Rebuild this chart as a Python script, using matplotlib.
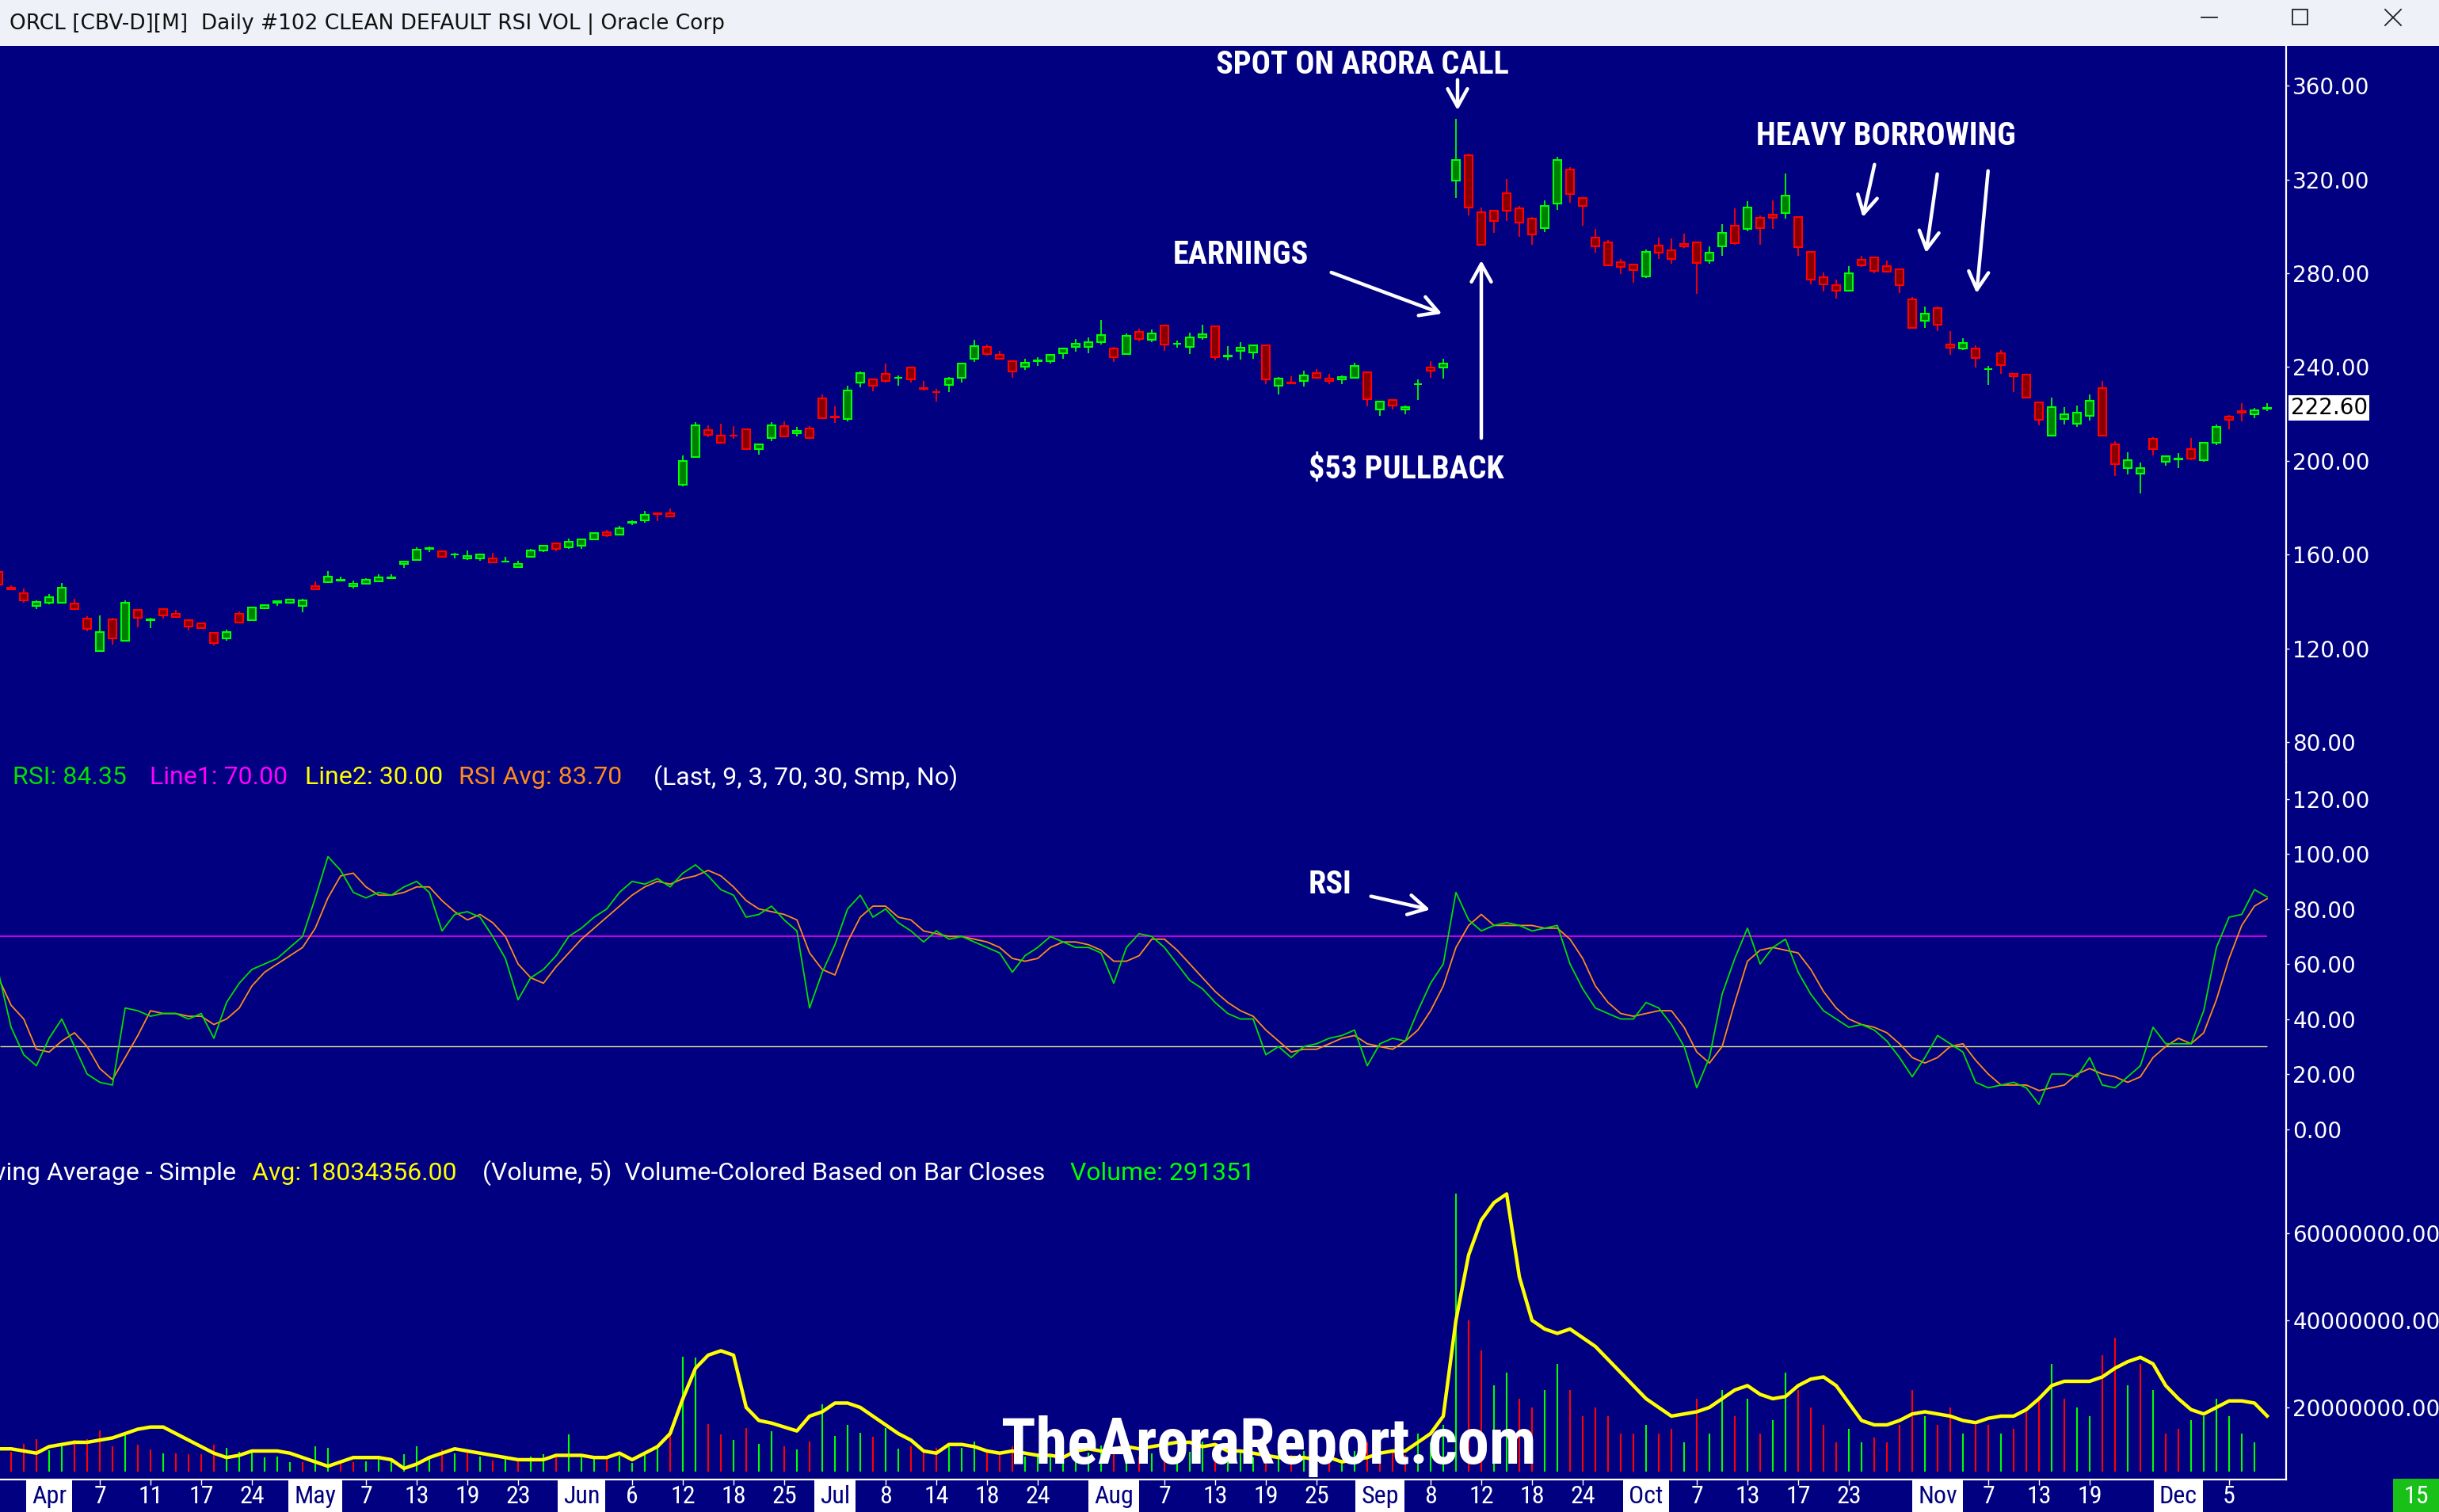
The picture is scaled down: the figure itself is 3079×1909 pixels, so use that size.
import numpy as np
import pandas as pd
import matplotlib
matplotlib.use('Agg')
import matplotlib.pyplot as plt
from matplotlib import font_manager
from matplotlib.patches import Rectangle, FancyArrowPatch
from matplotlib.lines import Line2D


W, H = 3079, 1909
NAVY = '#000080'
G_LINE, G_FILL = '#00FF00', '#008000'
R_LINE, R_FILL = '#FF0000', '#880000'

# Trading days shown (Mar 26 - Dec 10 2025), index 0 = Apr 1
holidays = ['2025-04-18', '2025-05-26', '2025-06-19', '2025-07-04', '2025-09-01', '2025-11-27']
days = pd.bdate_range('2025-03-26', '2025-12-10')
days = days[~days.isin(pd.to_datetime(holidays))]
x = np.arange(len(days)) - 4

# OHLC
opens = [152.7, 146.0, 143.6, 138.3, 139.7, 139.7, 139.1, 132.7, 118.8, 132.4,
         123.3, 136.4, 132.2, 136.8, 134.8, 132.0, 130.7, 126.6, 124.2, 134.8,
         132.3, 137.3, 139.4, 139.7, 138.3, 146.7, 148.2, 149.0, 146.8, 147.5,
         148.8, 150.0, 156.2, 157.9, 162.5, 161.4, 160.0, 158.3, 158.6, 158.5,
         157.0, 154.9, 159.3, 161.7, 164.9, 163.3, 164.0, 166.7, 169.5, 168.7,
         173.8, 174.8, 177.6, 177.6, 189.7, 201.6, 213.1, 210.7, 210.9, 213.4,
         205.2, 209.9, 214.7, 211.9, 213.7, 226.6, 218.9, 217.8, 233.3, 234.9,
         237.0, 235.3, 239.7, 231.1, 229.3, 232.3, 235.3, 243.4, 248.5, 245.1,
         242.4, 240.1, 242.5, 242.4, 245.8, 248.5, 248.5, 250.5, 247.8, 245.7,
         255.0, 251.5, 257.6, 249.8, 248.5, 252.5, 257.3, 244.6, 246.8, 246.1,
         249.3, 231.9, 233.4, 234.0, 237.5, 235.1, 234.9, 235.3, 237.8, 221.8,
         225.9, 221.8, 232.6, 239.7, 239.7, 319.4, 330.2, 305.9, 306.7, 314.0,
         307.6, 303.3, 299.1, 309.6, 324.1, 312.0, 295.1, 293.1, 284.6, 283.6,
         278.8, 291.7, 289.7, 292.4, 293.1, 285.3, 291.4, 300.1, 298.8, 303.5,
         304.9, 305.5, 303.9, 289.0, 278.2, 274.8, 272.7, 285.9, 286.6, 282.9,
         281.6, 268.8, 259.6, 265.0, 249.7, 247.8, 247.8, 239.1, 245.8, 237.0,
         236.7, 224.9, 210.8, 218.0, 216.0, 219.1, 230.9, 207.0, 197.0, 194.5,
         209.5, 199.7, 200.7, 205.0, 200.2, 207.8, 218.9, 221.3, 219.8, 222.2]
highs = [153.5, 147.0, 145.6, 140.6, 143.3, 148.0, 141.3, 133.8, 134.2, 133.2,
         140.6, 136.6, 133.2, 137.0, 136.5, 132.2, 131.1, 127.1, 128.1, 135.9,
         137.9, 138.8, 140.7, 141.3, 141.3, 148.7, 153.1, 150.7, 148.9, 150.0,
         151.7, 151.7, 157.1, 163.1, 163.5, 161.9, 160.8, 161.9, 160.5, 160.8,
         159.2, 157.5, 162.5, 164.3, 165.3, 166.9, 166.9, 169.3, 170.6, 172.3,
         174.7, 178.6, 177.6, 179.7, 202.4, 216.4, 215.1, 215.9, 214.9, 213.7,
         207.4, 216.4, 216.9, 214.5, 214.9, 228.4, 223.2, 232.0, 238.2, 235.2,
         241.5, 236.5, 240.1, 234.1, 230.7, 235.8, 241.4, 251.5, 249.5, 246.8,
         242.4, 243.4, 244.1, 245.5, 247.8, 252.0, 252.5, 260.0, 248.6, 254.5,
         256.5, 256.0, 257.7, 251.3, 254.7, 258.0, 257.7, 248.8, 250.6, 249.3,
         249.3, 235.9, 236.0, 238.4, 239.2, 237.1, 236.5, 241.7, 238.0, 225.6,
         225.9, 223.6, 234.6, 242.5, 243.7, 345.8, 331.0, 308.0, 307.0, 320.2,
         308.7, 304.0, 310.9, 329.5, 325.2, 312.3, 298.8, 294.2, 286.0, 283.6,
         290.0, 295.2, 294.9, 296.9, 293.1, 291.4, 300.8, 307.6, 310.6, 304.5,
         310.9, 322.4, 304.2, 289.6, 280.3, 277.2, 283.0, 287.3, 287.1, 285.3,
         281.6, 269.9, 265.8, 265.7, 255.4, 252.3, 249.3, 240.4, 247.1, 237.4,
         236.7, 225.4, 227.0, 223.0, 223.6, 228.4, 234.1, 208.6, 203.7, 199.3,
         210.1, 202.4, 203.3, 209.7, 208.2, 215.5, 219.6, 224.6, 222.6, 224.6]
lows = [146.8, 145.0, 139.4, 137.0, 139.0, 139.6, 136.5, 127.3, 118.7, 121.7,
        123.0, 129.1, 128.8, 132.9, 133.4, 127.9, 128.4, 121.4, 123.4, 131.0,
        132.1, 136.9, 138.2, 139.6, 135.5, 145.3, 148.0, 148.7, 145.8, 147.4,
        148.7, 149.8, 154.5, 157.6, 161.3, 158.9, 158.5, 157.9, 157.5, 156.6,
        156.8, 154.5, 158.9, 161.3, 161.6, 162.5, 162.5, 166.5, 167.7, 168.6,
        172.8, 173.7, 174.5, 176.1, 189.1, 201.5, 210.2, 207.5, 209.6, 204.9,
        202.7, 208.6, 210.1, 210.5, 209.8, 218.2, 216.3, 217.0, 231.5, 229.8,
        233.3, 232.2, 233.5, 230.2, 225.4, 229.4, 233.3, 242.3, 245.0, 243.4,
        235.6, 238.9, 240.6, 241.6, 243.7, 246.7, 245.8, 249.5, 242.3, 245.5,
        251.0, 250.5, 246.8, 248.2, 245.7, 251.5, 242.8, 242.8, 243.1, 243.7,
        232.6, 228.5, 232.9, 231.6, 235.2, 232.8, 232.8, 235.2, 223.4, 219.1,
        222.1, 219.8, 226.1, 235.6, 235.0, 312.2, 304.8, 292.0, 297.3, 302.4,
        295.4, 292.3, 297.7, 307.1, 310.2, 300.4, 288.9, 283.3, 279.8, 276.1,
        278.1, 286.2, 284.2, 290.9, 271.3, 284.0, 287.5, 292.3, 298.0, 292.3,
        299.0, 303.4, 287.5, 275.4, 272.4, 269.3, 272.7, 282.6, 280.0, 280.8,
        271.7, 256.4, 256.8, 255.5, 245.4, 247.4, 239.7, 232.5, 237.2, 229.2,
        226.6, 215.2, 210.8, 215.5, 214.5, 217.3, 210.7, 193.7, 194.4, 186.1,
        202.5, 197.9, 196.9, 200.2, 199.5, 206.6, 213.6, 217.0, 218.3, 221.4]
closes = [147.4, 145.4, 140.7, 139.8, 141.8, 145.9, 137.0, 128.3, 127.0, 124.2,
          139.4, 133.3, 132.4, 134.3, 133.6, 129.6, 128.6, 122.5, 127.0, 131.2,
          137.4, 138.5, 140.2, 140.9, 140.5, 145.4, 150.7, 149.2, 147.6, 149.3,
          150.3, 150.3, 157.0, 162.2, 162.7, 159.3, 160.2, 159.5, 160.2, 156.9,
          157.2, 156.1, 161.9, 163.9, 162.6, 165.6, 166.6, 169.2, 168.1, 171.2,
          173.9, 176.9, 177.4, 176.2, 199.9, 215.1, 211.0, 207.9, 210.7, 205.0,
          207.0, 215.1, 210.6, 212.7, 209.9, 218.3, 218.7, 229.9, 237.4, 232.2,
          234.2, 235.5, 234.9, 230.8, 229.2, 235.0, 241.4, 248.8, 245.5, 243.4,
          238.0, 241.7, 242.7, 245.1, 247.8, 249.8, 250.6, 253.8, 244.3, 253.5,
          252.0, 254.5, 249.5, 250.0, 252.7, 254.0, 244.1, 244.8, 248.2, 249.3,
          234.6, 235.0, 233.2, 236.5, 235.3, 234.2, 235.8, 240.5, 226.2, 225.2,
          223.6, 222.8, 232.8, 238.4, 241.4, 328.2, 307.9, 292.0, 302.2, 306.6,
          301.5, 296.4, 308.6, 328.2, 313.9, 308.6, 291.4, 283.3, 282.6, 281.2,
          289.0, 288.7, 286.0, 291.6, 284.3, 288.7, 297.1, 292.9, 307.9, 299.1,
          303.5, 313.0, 291.3, 277.2, 275.2, 272.5, 279.9, 283.3, 281.1, 280.8,
          275.1, 256.8, 262.7, 257.9, 248.2, 250.2, 243.8, 239.3, 240.7, 236.0,
          226.9, 217.4, 222.8, 219.8, 220.6, 225.5, 210.7, 198.5, 200.2, 196.9,
          205.0, 201.9, 200.9, 200.9, 207.8, 214.4, 217.6, 220.6, 221.5, 222.6]

# RSI(9) and its 3-bar average
rsi = [57, 37, 27, 23, 33, 40, 30, 20, 17, 16,
       44, 43, 41, 42, 42, 40, 42, 33, 46, 53,
       58, 60, 62, 66, 70, 84, 99, 94, 86, 84,
       86, 85, 88, 90, 86, 72, 78, 79, 77, 70,
       62, 47, 55, 58, 63, 70, 73, 77, 80, 86,
       90, 89, 91, 88, 93, 96, 92, 87, 85, 77,
       78, 81, 76, 72, 44, 57, 67, 80, 85, 77,
       80, 75, 72, 68, 72, 69, 70, 68, 66, 64,
       57, 63, 66, 70, 68, 66, 66, 64, 53, 66,
       71, 70, 66, 60, 54, 51, 46, 42, 40, 40,
       27, 30, 26, 30, 31, 33, 34, 36, 23, 31,
       33, 32, 43, 53, 60, 86, 76, 72, 74, 75,
       74, 72, 73, 74, 60, 51, 44, 42, 40, 40,
       46, 44, 38, 30, 15, 26, 49, 62, 73, 60,
       66, 69, 57, 49, 43, 40, 37, 38, 36, 32,
       26, 19, 26, 34, 31, 28, 17, 15, 16, 17,
       15, 9, 20, 20, 19, 26, 16, 15, 19, 23,
       37, 31, 31, 31, 43, 66, 77, 78, 87, 84.35]
rsi_avg = [55, 45, 40, 29, 28, 32, 35, 30, 22, 18,
           26, 34, 43, 42, 42, 41, 41, 38, 40, 44,
           52, 57, 60, 63, 66, 73, 84, 92, 93, 88,
           85, 85, 86, 88, 88, 83, 79, 76, 78, 75,
           70, 60, 55, 53, 59, 64, 69, 73, 77, 81,
           85, 88, 90, 89, 91, 92, 94, 92, 88, 83,
           80, 79, 78, 76, 64, 58, 56, 68, 77, 81,
           81, 77, 76, 72, 71, 70, 70, 69, 68, 66,
           62, 61, 62, 66, 68, 68, 67, 65, 61, 61,
           63, 69, 69, 65, 60, 55, 50, 46, 43, 41,
           36, 32, 28, 29, 29, 31, 33, 34, 31, 30,
           29, 32, 36, 43, 52, 66, 74, 78, 74, 74,
           74, 74, 73, 73, 69, 62, 52, 46, 42, 41,
           42, 43, 43, 37, 28, 24, 30, 46, 61, 65,
           66, 65, 64, 58, 50, 44, 40, 38, 37, 35,
           31, 26, 24, 26, 30, 31, 25, 20, 16, 16,
           16, 14, 15, 16, 20, 22, 20, 19, 17, 19,
           26, 30, 33, 31, 35, 47, 62, 74, 81, 83.70]

# Volume (millions) and its 5-bar simple average
volume = [12.0, 9.8, 11.6, 12.8, 10.1, 11.0, 12.5, 12.8, 14.7, 11.1,
          14.0, 11.4, 10.3, 9.4, 9.5, 9.2, 9.2, 11.4, 10.7, 9.9,
          10.4, 8.6, 8.7, 7.5, 7.5, 11.0, 10.8, 7.8, 7.5, 7.7,
          8.3, 7.6, 9.2, 11.1, 8.9, 10.3, 9.4, 9.7, 8.7, 7.8,
          8.9, 7.8, 8.7, 9.2, 8.7, 13.8, 8.7, 8.9, 8.5, 8.9,
          7.2, 9.9, 10.5, 14.0, 31.7, 31.4, 16.2, 13.8, 12.5, 15.3,
          11.6, 14.5, 11.1, 10.4, 12.2, 20.7, 13.4, 16.0, 14.1, 13.2,
          15.2, 10.5, 11.0, 10.3, 10.8, 11.0, 10.8, 12.1, 9.9, 9.0,
          11.0, 8.7, 9.5, 8.7, 9.4, 9.7, 9.7, 11.3, 9.4, 8.7,
          8.7, 9.4, 9.2, 9.4, 9.8, 12.2, 11.4, 8.7, 10.0, 8.6,
          12, 10, 9, 10, 9, 8, 8, 10, 12, 12,
          10, 9, 14, 12, 16, 69, 40, 33, 25, 28,
          22, 20, 24, 30, 24, 18, 20, 18, 14, 14,
          16, 14, 15, 12, 22, 14, 24, 18, 22, 14,
          17, 28, 24, 20, 16, 12, 15, 12, 13, 12,
          16, 24, 18, 16, 20, 14, 16, 16, 14, 15,
          20, 22, 30, 22, 20, 18, 32, 36, 25, 30,
          24, 14, 15, 17, 18, 22, 18, 14, 12, 0.291351]
vol_avg = [10.5, 10.5, 10, 9.5, 11, 11.5, 12, 12, 12.5, 13,
           14, 15, 15.5, 15.5, 14, 12.5, 11, 9.5, 8.5, 9,
           10, 10, 10, 9.5, 8.5, 7.5, 6.5, 7.5, 8.5, 8.5,
           8.5, 8, 6, 7, 8.5, 9.5, 10.5, 10, 9.5, 9,
           8.5, 8, 8, 8, 9, 9, 9, 8.5, 8.5, 9.5,
           8, 9.5, 11, 14, 22, 29, 32, 33, 32, 20,
           17, 16.4, 15.5, 14.6, 18, 19, 21, 21, 20, 18,
           16, 14, 12.5, 10, 9.5, 11.5, 11.5, 11, 10, 9.5,
           10, 9.5, 9, 9, 8.5, 10, 10.5, 10, 10.5, 11,
           10.5, 11, 11.5, 12, 12, 11, 11.5, 10, 10, 9.5,
           9, 8.5, 8.5, 8.5, 8, 8.5, 7.5, 8, 8.5, 9.5,
           10, 10, 12, 14, 18, 40, 55, 63, 67, 69,
           50, 40, 38, 37, 38, 36, 34, 31, 28, 25,
           22, 20, 18, 18.5, 19, 20, 22, 24, 25, 23,
           22, 22.5, 25, 26.5, 27, 25, 21, 17, 16, 16,
           17, 18.5, 19, 18.5, 18, 17, 16.5, 17.5, 18, 18,
           19.5, 22, 25, 26, 26, 26, 27, 29, 30.5, 31.5,
           30, 25, 22, 19.5, 18.5, 20, 21.5, 21.5, 21, 18.034356]

# Date axis labels
date_ticks = [('2025-04-01', 'Apr'), ('2025-04-07', '7'), ('2025-04-11', '11'), ('2025-04-17', '17'),
              ('2025-04-24', '24'), ('2025-05-01', 'May'), ('2025-05-07', '7'), ('2025-05-13', '13'),
              ('2025-05-19', '19'), ('2025-05-23', '23'), ('2025-06-02', 'Jun'), ('2025-06-06', '6'),
              ('2025-06-12', '12'), ('2025-06-18', '18'), ('2025-06-25', '25'), ('2025-07-01', 'Jul'),
              ('2025-07-08', '8'), ('2025-07-14', '14'), ('2025-07-18', '18'), ('2025-07-24', '24'),
              ('2025-08-01', 'Aug'), ('2025-08-07', '7'), ('2025-08-13', '13'), ('2025-08-19', '19'),
              ('2025-08-25', '25'), ('2025-09-02', 'Sep'), ('2025-09-08', '8'), ('2025-09-12', '12'),
              ('2025-09-18', '18'), ('2025-09-24', '24'), ('2025-10-01', 'Oct'), ('2025-10-07', '7'),
              ('2025-10-13', '13'), ('2025-10-17', '17'), ('2025-10-23', '23'), ('2025-11-03', 'Nov'),
              ('2025-11-07', '7'), ('2025-11-13', '13'), ('2025-11-19', '19'), ('2025-12-01', 'Dec'),
              ('2025-12-05', '5')]
months = ['Apr', 'May', 'Jun', 'Jul', 'Aug', 'Sep', 'Oct', 'Nov', 'Dec']

opens, highs, lows, closes = map(np.array, (opens, highs, lows, closes))
rsi, rsi_avg = np.array(rsi), np.array(rsi_avg)
volume, vol_avg = np.array(volume) * 1e6, np.array(vol_avg) * 1e6

# Fonts: a narrow face for the captions, whatever is installed
names = {f.name for f in font_manager.fontManager.ttflist}
if 'Liberation Sans Narrow' in names:
    NARROW, SZ = 'Liberation Sans Narrow', dict(note=29, date=23, wm=58)
elif 'Roboto Condensed' in names:
    NARROW, SZ = 'Roboto Condensed', dict(note=29, date=23, wm=58)
elif 'Roboto' in names:
    NARROW, SZ = 'Roboto', dict(note=25, date=20, wm=51)
else:
    NARROW, SZ = 'DejaVu Sans', dict(note=21.5, date=17, wm=42)
LEGEND = 'Roboto' if 'Roboto' in names else 'DejaVu Sans'
LEG_SZ = 23 if LEGEND == 'Roboto' else 21


def fx(px):
    return px / W


def fy(py):
    return 1 - py / H


fig = plt.figure(figsize=(W / 100, H / 100), dpi=100, facecolor=NAVY)

# Window title bar
fig.add_artist(Rectangle((0, fy(58)), 1, 58 / H, transform=fig.transFigure,
                         facecolor='#EEF2F8', edgecolor='none', zorder=0))
fig.text(fx(12), fy(30), 'ORCL [CBV-D][M]  Daily #102 CLEAN DEFAULT RSI VOL | Oracle Corp',
         ha='left', va='center', fontsize=19, color='#111111', family='DejaVu Sans')
for xs, ys in [([2779, 2799], [22, 22]), ([3011, 3031], [12, 32]), ([3011, 3031], [32, 12])]:
    fig.add_artist(Line2D([fx(v) for v in xs], [fy(v) for v in ys], transform=fig.transFigure,
                          color='#222222', lw=1.3))
fig.add_artist(Rectangle((fx(2894), fy(31)), 19 / W, 19 / H, transform=fig.transFigure,
                         fill=False, edgecolor='#222222', lw=1.3))

# Panels
AX_R = fx(2886)
ax_p = fig.add_axes([0, fy(962), AX_R, (962 - 58) / H])
ax_r = fig.add_axes([0, fy(1453), AX_R, (1453 - 962) / H])
ax_v = fig.add_axes([0, fy(1868), AX_R, (1868 - 1453) / H])

xmin, xmax = -3.875, 176.5
for ax in (ax_p, ax_r, ax_v):
    ax.set_facecolor(NAVY)
    ax.set_xlim(xmin, xmax)
    for s in ('top', 'left', 'bottom'):
        ax.spines[s].set_visible(False)
    ax.spines['right'].set_color('white')
    ax.spines['right'].set_linewidth(1.6)
    ax.yaxis.tick_right()
    ax.tick_params(axis='y', colors='white', labelcolor='white', labelsize=20, length=3, width=1, pad=3)
    ax.tick_params(axis='x', bottom=False, labelbottom=False)

# Price panel: candles
up = closes >= opens
line_c = np.where(up, G_LINE, R_LINE)
fill_c = np.where(up, G_FILL, R_FILL)
ax_p.vlines(x, lows, highs, colors=line_c, lw=1.3, zorder=2)
ax_p.bar(x, np.maximum(np.abs(closes - opens), 0.2), bottom=np.minimum(opens, closes), width=0.66,
         color=fill_c, edgecolor=line_c, linewidth=1.5, zorder=3)
ax_p.set_ylim(71.7, 376.9)
ax_p.set_yticks(np.arange(80, 361, 40))
ax_p.set_yticklabels([f'{v:.2f}' for v in np.arange(80, 361, 40)])
ax_p.annotate(f'{closes[-1]:.2f}', xy=(1, closes[-1]), xycoords=('axes fraction', 'data'),
              xytext=(4, 0), textcoords='offset points', ha='left', va='center', fontsize=20,
              color='black', family='DejaVu Sans',
              bbox=dict(boxstyle='square,pad=0.08', facecolor='white', edgecolor='none'))

# RSI panel
ax_r.set_ylim(-7.9, 133.4)
ax_r.set_yticks(np.arange(0, 121, 20))
ax_r.set_yticklabels([f'{v:.2f}' for v in np.arange(0, 121, 20)])
ax_r.hlines(70, xmin, x[-1], colors='#FF00FF', lw=1.1)
ax_r.hlines(30, xmin, x[-1], colors='#E8E890', lw=1.0)
ax_r.plot(x, rsi_avg, color='#FF8C1A', lw=1.3)
ax_r.plot(x, rsi, color='#00E000', lw=1.3)

# Volume panel
prev = np.concatenate([[opens[0]], closes[:-1]])
vcol = np.where(closes >= prev, G_LINE, R_LINE)
base = 5.2e6
ax_v.vlines(x, base, np.maximum(volume, base), colors=vcol, lw=1.5)
ax_v.plot(x, vol_avg, color='#FFFF00', lw=3.2, solid_joinstyle='round')
ax_v.set_ylim(3.45e6, 78.9e6)
ax_v.set_yticks([20e6, 40e6, 60e6])
ax_v.set_yticklabels([f'{v:.2f}' for v in [20e6, 40e6, 60e6]])
ax_v.spines['bottom'].set_visible(True)
ax_v.spines['bottom'].set_color('white')
ax_v.spines['bottom'].set_linewidth(1.6)

# Date labels under the volume panel
pos = [days.get_loc(pd.Timestamp(d)) - 4 for d, _ in date_ticks]
ax_v.set_xticks(pos)
ax_v.tick_params(axis='x', bottom=True, colors='white', length=5, width=1, labelbottom=False)
for p, (_, lab) in zip(pos, date_ticks):
    if lab in months:
        ax_v.text(p, -0.053, lab, transform=ax_v.get_xaxis_transform(), ha='center', va='center',
                  fontsize=SZ['date'], color=NAVY, family=NARROW,
                  bbox=dict(boxstyle='square,pad=0.22', facecolor='white', edgecolor='none'))
    else:
        ax_v.text(p, -0.053, lab, transform=ax_v.get_xaxis_transform(), ha='center', va='center',
                  fontsize=SZ['date'], color='white', family=NARROW)
fig.add_artist(Rectangle((fx(3021), 0), 58 / W, 42 / H, transform=fig.transFigure,
                         facecolor='#18C018', edgecolor='none'))
fig.text(fx(3050), fy(1889), '15', ha='center', va='center', fontsize=SZ['date'], color='white',
         family=NARROW)

# Indicator legends
leg_y = fy(982)
for px, txt, col in [(16, f'RSI: {rsi[-1]:.2f}', '#00E000'), (189, 'Line1: 70.00', '#FF00FF'),
                     (385, 'Line2: 30.00', '#FFFF00'), (579, f'RSI Avg: {rsi_avg[-1]:.2f}', '#FF8C1A'),
                     (825, '(Last, 9, 3, 70, 30, Smp, No)', 'white')]:
    fig.text(fx(px), leg_y, txt, ha='left', va='center', fontsize=LEG_SZ, color=col, family=LEGEND)

vleg_y = fy(1481)
fig.text(fx(298), vleg_y, 'Moving Average - Simple', ha='right', va='center', fontsize=LEG_SZ,
         color='white', family=LEGEND)
fig.text(fx(318), vleg_y, f'Avg: {vol_avg[-1]:.2f}', ha='left', va='center', fontsize=LEG_SZ,
         color='#FFFF00', family=LEGEND)
fig.text(fx(609), vleg_y, '(Volume, 5)  Volume-Colored Based on Bar Closes', ha='left', va='center',
         fontsize=LEG_SZ, color='white', family=LEGEND)
fig.text(fx(1351), vleg_y, f'Volume: {volume[-1]:.0f}', ha='left', va='center', fontsize=LEG_SZ,
         color='#00FF00', family=LEGEND)


# Hand-drawn style call-outs
def arrow(x0, y0, x1, y1):
    fig.add_artist(FancyArrowPatch((fx(x0), fy(y0)), (fx(x1), fy(y1)), transform=fig.transFigure,
                                   arrowstyle='->,head_length=0.9,head_width=0.5', mutation_scale=18,
                                   color='white', lw=3.2, zorder=10))


def note(px, py, txt):
    fig.text(fx(px), fy(py), txt, ha='center', va='center', fontsize=SZ['note'], fontweight='bold',
             color='white', family=NARROW, zorder=10)


note(1720, 82, 'SPOT ON ARORA CALL')
arrow(1840, 98, 1840, 142)
note(1566, 322, 'EARNINGS')
arrow(1678, 343, 1823, 397)
note(1775, 593, '$53 PULLBACK')
arrow(1870, 556, 1870, 326)
note(2381, 172, 'HEAVY BORROWING')
arrow(2367, 205, 2351, 277)
arrow(2446, 217, 2431, 322)
arrow(2510, 213, 2495, 373)
note(1679, 1117, 'RSI')
arrow(1728, 1131, 1808, 1149)

# Watermark
fig.text(fx(1602), fy(1826), 'TheAroraReport.com', ha='center', va='center', fontsize=SZ['wm'],
         fontweight='bold', color='white', family=NARROW, zorder=10)

fig.savefig('out.png', dpi=100, facecolor=NAVY)
